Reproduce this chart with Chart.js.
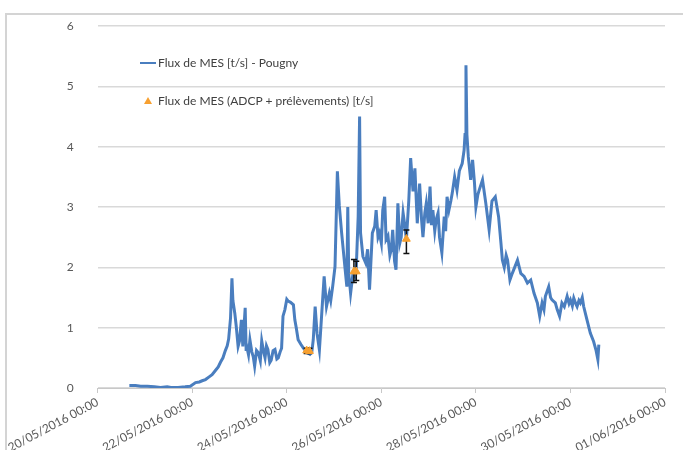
<!DOCTYPE html>
<html>
<head>
<meta charset="utf-8">
<script src="https://cdn.jsdelivr.net/npm/chart.js@4.4.1/dist/chart.umd.min.js"></script>
<style>
  body { margin: 0; background: #fff; font-family: Lato, "Open Sans", sans-serif; }
  #frame { position: absolute; left: 5px; top: 13px; width: 676px; height: 435px;
           border-left: 2px solid #d4d4d4; border-top: 2px solid #d4d4d4; }
  .leg { position: absolute; font-size: 12px; color: #404040; white-space: nowrap; }
  .swatch { position: absolute; left: 140px; top: 62px; width: 16px; height: 2px; background: #4a7ebf; }
  .tri { position: absolute; left: 144px; top: 97px; width: 0; height: 0;
         border-left: 4px solid transparent; border-right: 4px solid transparent;
         border-bottom: 7px solid #f7a030; }
</style>
</head>
<body>
<div id="frame"><canvas id="myChart" width="676" height="435"></canvas></div>
<div class="swatch"></div>
<div class="leg" style="left:158px; top:55px;">Flux de MES [t/s] - Pougny</div>
<div class="tri"></div>
<div class="leg" style="left:158px; top:93px;">Flux de MES (ADCP + prélèvements) [t/s]</div>
<script>
// x values are days since 20/05/2016 00:00
const tickLabels = ["20/05/2016 00:00", "22/05/2016 00:00", "24/05/2016 00:00", "26/05/2016 00:00",
  "28/05/2016 00:00", "30/05/2016 00:00", "01/06/2016 00:00"];

const fluxDays = [0.67, 0.8, 0.91, 1.05, 1.2, 1.33, 1.47, 1.55, 1.7, 1.85, 1.96, 2.07, 2.15, 2.21, 2.28,
  2.35, 2.42, 2.49, 2.55, 2.6, 2.65, 2.7, 2.74, 2.77, 2.81, 2.84, 2.86, 2.9, 2.93, 2.97, 3.0, 3.04,
  3.07, 3.12, 3.14, 3.15, 3.19, 3.22, 3.26, 3.29, 3.32, 3.36, 3.4, 3.44, 3.47, 3.51, 3.54, 3.57, 3.6,
  3.64, 3.67, 3.71, 3.75, 3.79, 3.82, 3.86, 3.89, 3.92, 3.96, 4.0, 4.03, 4.08, 4.14, 4.17, 4.2, 4.24, 4.3,
  4.35, 4.4, 4.45, 4.49, 4.53, 4.56, 4.6, 4.64, 4.69, 4.74, 4.79, 4.84, 4.9, 4.93, 4.97, 5.02, 5.07,
  5.11, 5.16, 5.23, 5.27, 5.29, 5.31, 5.35, 5.4, 5.44, 5.47, 5.51, 5.54, 5.56, 5.61, 5.67, 5.71, 5.75,
  5.81, 5.86, 5.89, 5.93, 5.96, 6.0, 6.03, 6.07, 6.1, 6.14, 6.18, 6.21, 6.24, 6.28, 6.31, 6.35, 6.39,
  6.42, 6.46, 6.49, 6.53, 6.58, 6.62, 6.67, 6.71, 6.76, 6.81, 6.85, 6.88, 6.92, 6.95, 6.99, 7.03, 7.06,
  7.09, 7.13, 7.16, 7.2, 7.23, 7.28, 7.33, 7.36, 7.39, 7.43, 7.47, 7.5, 7.55, 7.6, 7.65, 7.71, 7.75,
  7.77, 7.79, 7.81, 7.84, 7.89, 7.93, 7.97, 8.0, 8.04, 8.07, 8.14, 8.21, 8.28, 8.34, 8.41, 8.48, 8.53,
  8.56, 8.6, 8.64, 8.67, 8.72, 8.77, 8.82, 8.88, 8.95, 9.02, 9.09, 9.16, 9.23, 9.3, 9.35, 9.4, 9.44,
  9.47, 9.54, 9.58, 9.61, 9.68, 9.72, 9.77, 9.82, 9.87, 9.93, 9.97, 10.0, 10.04, 10.07, 10.11, 10.14,
  10.18, 10.21, 10.25, 10.28, 10.35, 10.42, 10.49, 10.54, 10.58, 10.6];
const fluxValues = [0.04, 0.04, 0.03, 0.03, 0.02, 0.01, 0.02, 0.01, 0.01, 0.02, 0.03, 0.09, 0.1, 0.12, 0.14,
  0.18, 0.22, 0.29, 0.35, 0.43, 0.5, 0.62, 0.7, 0.81, 1.16, 1.82, 1.45, 1.24, 1.03, 0.69, 0.78, 1.13,
  0.69, 1.33, 0.64, 0.7, 0.55, 0.8, 0.6, 0.52, 0.36, 0.62, 0.58, 0.45, 0.78, 0.6, 0.5, 0.7, 0.64,
  0.42, 0.46, 0.62, 0.64, 0.48, 0.5, 0.6, 0.66, 1.19, 1.3, 1.47, 1.44, 1.42, 1.38, 1.13, 1.0, 0.8, 0.72,
  0.66, 0.62, 0.58, 0.56, 0.6, 0.8, 1.35, 0.9, 0.63, 1.24, 1.85, 1.35, 1.57, 1.45, 1.68, 2.01, 3.59,
  3.03, 2.57, 2.0, 1.68, 3.0, 1.9, 1.57, 1.9, 1.85, 2.0, 2.84, 4.5, 2.57, 2.18, 2.07, 2.3, 1.63,
  2.57, 2.68, 2.95, 2.5, 2.57, 2.4, 2.95, 3.17, 2.46, 2.52, 2.2, 2.29, 2.62, 2.1, 1.96, 3.06, 2.4,
  2.5, 2.9, 2.73, 2.46, 3.1, 3.81, 3.26, 3.64, 2.73, 3.39, 2.8, 2.5, 2.9, 3.06, 2.73, 3.34, 2.7,
  2.95, 2.6, 2.79, 2.9, 2.5, 2.24, 2.84, 2.6, 3.17, 2.95, 3.1, 3.23, 3.5, 3.28, 3.6, 3.72, 3.94,
  4.2, 5.35, 4.2, 3.83, 3.45, 3.78, 3.4, 3.0, 3.2, 3.28, 3.45, 3.06, 2.62, 3.1, 3.17, 2.84, 2.4,
  2.12, 2.0, 2.2, 2.12, 1.79, 1.9, 2.0, 2.12, 1.9, 1.85, 1.74, 1.79, 1.57, 1.41, 1.19, 1.41, 1.3,
  1.52, 1.68, 1.5, 1.46, 1.41, 1.3, 1.19, 1.41, 1.35, 1.52, 1.4, 1.46, 1.36, 1.49, 1.4, 1.35,
  1.45, 1.41, 1.5, 1.35, 1.13, 0.91, 0.77, 0.63, 0.47, 0.72];

const adcpDays = [4.42, 4.48, 5.42, 5.47, 6.53];
const adcpValues = [0.62, 0.61, 1.93, 1.93, 2.47];
const adcpLow = [0.57, 0.57, 1.75, 1.78, 2.23];
const adcpHigh = [0.66, 0.66, 2.13, 2.1, 2.62];

const errorBars = {
  id: "errorBars",
  beforeDatasetDraw(chart, args) {
    if (args.index !== 1) return;
    const x = chart.scales.x, y = chart.scales.y, ctx = chart.ctx;
    ctx.save();
    ctx.strokeStyle = "#111";
    ctx.lineWidth = 1.5;
    adcpDays.forEach((d, i) => {
      const px = x.getPixelForValue(d);
      const lo = y.getPixelForValue(adcpLow[i]), hi = y.getPixelForValue(adcpHigh[i]);
      ctx.beginPath();
      ctx.moveTo(px, lo); ctx.lineTo(px, hi);
      ctx.moveTo(px - 3, lo); ctx.lineTo(px + 3, lo);
      ctx.moveTo(px - 3, hi); ctx.lineTo(px + 3, hi);
      ctx.stroke();
    });
    ctx.restore();
  }
};

const ctx = document.getElementById("myChart").getContext("2d");
const chart = new Chart(ctx, {
  type: "scatter",
  data: {
    datasets: [
      {
        label: "Flux de MES [t/s] - Pougny",
        data: fluxDays.map((d, i) => ({ x: d, y: fluxValues[i] })),
        showLine: true,
        borderColor: "#4a7ebf",
        backgroundColor: "#4a7ebf",
        borderWidth: 3,
        pointRadius: 0,
        tension: 0,
        order: 1
      },
      {
        label: "Flux de MES (ADCP + prélèvements) [t/s]",
        data: adcpDays.map((d, i) => ({ x: d, y: adcpValues[i] })),
        pointStyle: "triangle",
        pointRadius: 4.5,
        backgroundColor: "#f7a030",
        borderColor: "#f7a030",
        borderWidth: 1,
        order: 0
      }
    ]
  },
  options: {
    responsive: false,
    animation: false,
    layout: { padding: { top: 0, right: 18, left: 0, bottom: 0 } },
    plugins: { legend: { display: false }, tooltip: { enabled: false } },
    scales: {
      x: {
        type: "linear",
        min: 0,
        max: 12,
        afterFit: (scale) => { scale.height = 62; },
        ticks: {
          stepSize: 2,
          autoSkip: false,
          minRotation: 28,
          maxRotation: 28,
          color: "#595959",
          font: { family: "Lato", size: 12 },
          padding: 2,
          callback: (v) => tickLabels[v / 2]
        },
        grid: { drawOnChartArea: false, drawTicks: true, tickLength: 5, color: "#c8c8c8" },
        border: { display: true, color: "#c8c8c8" }
      },
      y: {
        min: 0,
        max: 6,
        afterFit: (scale) => {
          scale.width = 90;
          scale.paddingTop = 11;
          scale.paddingBottom = 0;
        },
        ticks: {
          stepSize: 1,
          color: "#595959",
          font: { family: "Lato", size: 12 },
          padding: 24
        },
        grid: { color: "#d9d9d9", lineWidth: 1.5, drawTicks: false },
        border: { display: false }
      }
    }
  },
  plugins: [errorBars]
});
</script>
</body>
</html>
